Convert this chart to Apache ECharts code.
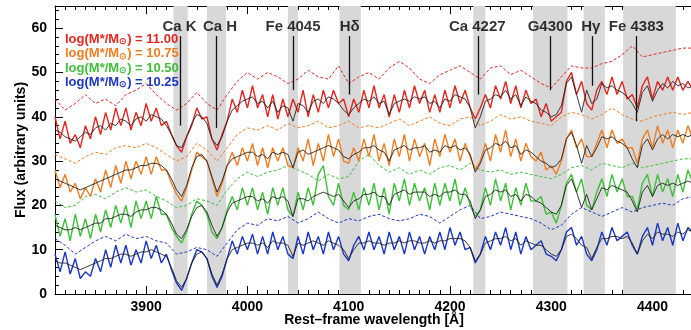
<!DOCTYPE html>
<html>
<head>
<meta charset="utf-8">
<script src="https://cdn.jsdelivr.net/npm/echarts@6/dist/echarts.min.js"></script>
<style>
  html, body { margin: 0; padding: 0; background: #fff; }
  #chart { width: 691px; height: 330px; }
</style>
</head>
<body>
<div id="chart"></div>
<script>
// spectra sampled every 5 A from 3810 A (one row = 50 A), dashed curves every 10 A
const waveStart = 3810
const fineStep = 5
const coarseStep = 10

const red = [
  40, 35, 39, 34, 36, 33, 38, 35, 40, 36,
  41, 37, 42, 38, 42, 37, 41, 38, 43, 39,
  42, 38, 39, 36, 33.5, 32, 35.5, 38, 42, 39.5,
  40, 35, 32.5, 36, 39, 44, 41, 46, 42, 47,
  42, 45, 40, 45, 39.5, 44, 40, 44, 41, 46,
  40, 45, 41, 46, 42, 46, 43, 44, 40, 44,
  41, 46, 42, 47, 42, 45, 40, 45, 41, 46,
  42, 47, 43, 46, 41, 45, 41, 46, 42, 47,
  43, 46, 42, 39.5, 42, 45, 42, 47, 44, 48,
  43, 47, 42, 46, 43, 44, 40, 43, 39, 40,
  41, 48, 50, 45, 48, 43, 41.5, 46, 48, 45,
  49, 45, 48, 44, 45, 42, 47, 49, 44, 48,
  46, 49, 46, 49, 46, 48, 46]
const redModel = [37, 36.5, 35.5, 35, 34.5, 35.5, 36.5, 36, 37.5, 38, 37, 38.5, 38, 39.5, 39, 38, 39.5, 40, 39, 40.5, 40, 39.5, 38, 36, 33.5, 33, 35.5, 38.5, 40.5, 40, 38.5, 35, 33.5, 35.5, 39, 41.5, 42.5, 43.5, 44, 44.5, 43, 43.5, 42, 43.5, 41, 42.5, 42, 39, 43, 42.5, 41, 43.5, 44, 43, 44.5, 44, 43, 41.5, 40.5, 42, 43, 44, 43.5, 44.5, 43, 43.5, 40.5, 43, 43.5, 44, 43.5, 44.5, 44, 44.5, 43, 43.5, 42, 44, 43.5, 45, 44.5, 44, 42, 37.5, 40, 43.5, 44, 45, 44.5, 46, 44, 45, 42.5, 44.5, 43.5, 43, 41.5, 41, 40, 40.5, 42.5, 47.5, 49, 45, 41, 46, 43, 44, 47.5, 46.5, 47, 46, 45.5, 44.5, 43, 41, 45.5, 47, 43.5, 46, 47.5, 46.5, 48, 47, 47.5, 46.5, 47]
const redDash = [44, 41.5, 43, 45, 43, 44, 42.5, 45, 46, 47.5, 45, 43, 41.5, 43, 45.5, 43, 41.5, 45, 48, 50, 48.5, 50, 49, 47.5, 48.5, 50.5, 49, 48.5, 51.5, 47.5, 49, 50, 48.5, 51, 52.5, 51, 48.5, 47.5, 49.5, 50.5, 51.5, 50, 48.5, 51, 51.5, 49.5, 50.5, 49, 47.5, 46.5, 49, 51.5, 51, 51, 52, 52.5, 54, 56, 53.5, 54, 54.5, 55, 55.5, 55.5]

const orange = [
  28, 24, 27, 23, 25, 21.5, 24, 22, 26, 23,
  28, 24, 29, 25, 30, 26, 30, 27, 31, 27,
  31, 28, 28, 25, 22.5, 21, 24, 28, 32, 31,
  30, 26, 22, 25, 29, 32, 29, 33, 30, 34,
  29, 33, 28.5, 33, 30, 33, 29, 28.5, 33, 30,
  35, 29, 34, 30, 36, 31, 35, 30, 29.5, 33,
  30, 35, 31, 36, 30, 34, 29, 35, 31, 36,
  30, 35, 31, 34, 29, 35, 31, 36, 32, 35,
  30, 34, 31, 28, 30, 34, 30, 36, 32, 37,
  31, 35, 30, 34, 31, 30, 32, 28, 29, 27,
  30, 35, 37, 33, 35, 31, 31, 34, 37, 33,
  37, 34, 35, 33, 33, 29.5, 35, 37, 33, 38,
  34, 37, 33, 37, 34, 38, 35]
const orangeModel = [26, 25.5, 25, 24.5, 24, 23.5, 24, 24.5, 25, 25.5, 26, 26.5, 27, 27.5, 28, 28, 28.5, 29, 29, 29.5, 29.5, 29, 28, 26, 23.5, 22, 24.5, 28.5, 31, 31.5, 30, 26.5, 23, 25.5, 29, 30.5, 31, 31.5, 32, 32, 31, 31.5, 30.5, 32, 31.5, 32, 31.5, 28.5, 32, 32.5, 31.5, 32, 32.5, 33, 33.5, 33, 32.5, 31, 30.5, 31.5, 32, 33, 33, 33.5, 32.5, 32, 30, 32.5, 33, 33.5, 32.5, 33, 33, 33.5, 32, 32.5, 32, 33.5, 33, 33.5, 32.5, 33, 31.5, 27.5, 29.5, 32.5, 33, 34, 33.5, 34.5, 33, 33.5, 31.5, 32.5, 32, 31, 30, 29.5, 28.5, 29, 30.5, 35, 36.5, 33.5, 29.5, 33.5, 31, 33, 35.5, 35, 35.5, 34.5, 34, 33, 30.5, 28.5, 33.5, 35, 32.5, 35, 36, 35, 36, 35.5, 36, 35.5, 36]
const orangeDash = [31.5, 30.5, 29.5, 31, 32, 31.5, 33, 33.5, 33, 34, 33, 31.5, 30, 31, 34, 32.5, 30, 33, 36, 37.5, 37, 38, 37, 38.5, 37.5, 38, 39, 37.5, 38, 39, 37.5, 38, 37.5, 38.5, 39.5, 38, 39, 40, 38.5, 38, 39.5, 40, 38, 39, 40.5, 39.5, 40, 39, 38.5, 38, 40, 41, 40.5, 39.5, 40.5, 42, 40.5, 39.5, 39, 40, 40.5, 41, 40.5, 41]

const green = [
  18, 13, 17, 12, 18, 13, 17, 12.5, 18, 14,
  19, 15, 20, 16, 20, 15, 21, 17, 21, 17,
  22, 18, 18, 15, 13, 11.5, 14, 18, 21, 20,
  18, 14, 12.5, 15, 19, 22, 19, 24, 20, 24,
  19, 23, 18, 24, 20, 24, 19, 17.5, 23, 19,
  24, 20, 27, 29, 22, 20, 25, 20, 19, 23,
  19, 24, 20, 25, 19, 24, 18, 25, 21, 26,
  20, 25, 21, 24, 19, 25, 20, 25, 21, 26,
  20, 24, 20, 17.5, 19, 24, 20, 26, 21, 25,
  19, 24, 20, 25, 21, 21, 22, 18, 18.5, 16,
  20, 25, 27, 23, 26, 20, 19, 23, 26, 22,
  27, 23, 26, 22, 22, 19, 25, 27, 22, 27,
  23, 26, 22, 27, 23, 28, 25]
const greenModel = [15.5, 15, 14.5, 14.5, 15, 14.5, 15, 15.5, 16, 16, 17, 17, 17.5, 18, 18, 17.5, 18.5, 19, 19, 19.5, 19.5, 19, 18, 16, 13.5, 12.5, 14.5, 17.5, 19.5, 20, 18.5, 15.5, 13, 15, 18.5, 20.5, 21, 21.5, 22, 22, 21, 21.5, 20.5, 22, 21.5, 22, 21, 17.5, 21.5, 21.5, 21, 22, 22.5, 23, 22.5, 22, 22.5, 21, 19.5, 21, 21.5, 22.5, 22.5, 23, 22, 22, 20, 22.5, 23, 23.5, 22.5, 23, 23, 23, 22, 22.5, 22, 23, 23, 23.5, 22.5, 22.5, 21, 17, 19, 22, 22.5, 23.5, 23, 23.5, 22, 22.5, 21, 22.5, 22, 21, 20.5, 19.5, 18.5, 18, 20, 24.5, 26, 23, 19.5, 22.5, 19, 21.5, 24, 23.5, 24.5, 24, 23.5, 23, 21, 18.5, 23, 24.5, 22, 24.5, 25, 24.5, 25, 24.5, 25, 25.5, 25]
const greenDash = [21, 19.5, 20, 22, 22.5, 21.5, 23, 24, 23, 23.5, 22, 21, 19.5, 20, 21.5, 21, 20, 23.5, 26, 27.5, 26.5, 27.5, 28, 29, 28, 27, 25.5, 27, 26, 26.5, 30, 31.5, 29, 27.5, 28.5, 27, 28, 27, 28.5, 29, 28, 29.5, 28, 27.5, 28, 27, 27.5, 27, 26.5, 26, 27, 28.5, 29, 28, 29.5, 29, 28.5, 29.5, 28.5, 29, 29.5, 30, 30.5, 30.5]

const blue = [
  9, 5, 9.5, 4.5, 8, 3.5, 5, 4, 8, 5,
  10, 6, 11, 7, 11, 6.5, 10, 7, 12, 8,
  11, 7, 9, 5.5, 2.5, 0.8, 3.5, 7, 10, 9.5,
  8, 4, 1.5, 4, 8, 12, 9, 13, 10, 13.5,
  9, 13, 9, 14, 10, 13, 9, 8, 13, 9,
  14, 10, 13, 9, 14, 10, 13, 9, 7.5, 11,
  13, 10, 14, 10, 13, 9, 14, 10, 13, 9,
  14, 10, 13, 9, 13, 10, 14, 10, 15, 11,
  14, 10, 10.5, 7, 9, 13, 10, 14, 11, 15,
  10, 14, 9, 13, 10, 11, 12, 9, 8.5, 7.5,
  10, 14, 15, 11, 13, 9, 7.5, 10, 14, 11,
  15, 12, 13, 14, 11, 9, 13, 15, 11, 16,
  12, 15, 11, 16, 12, 15, 14]
const blueModel = [7.5, 7, 7, 6.5, 6, 5.5, 6, 6.5, 7, 7.5, 8, 8, 8.5, 9, 9, 8.5, 9, 9.5, 9.5, 10, 9.5, 9, 8.5, 6, 3, 1.5, 3.5, 7, 9, 9.5, 8, 4.5, 2, 4.5, 8, 10, 10.5, 11, 11.5, 11.5, 11, 11.5, 10.5, 12, 11.5, 11.5, 11, 8.5, 11.5, 11, 11.5, 12, 11.5, 11, 12, 11.5, 11, 10, 8, 10, 11.5, 11.5, 12, 11.5, 11.5, 11, 11.5, 11.5, 12, 11.5, 12, 12, 11.5, 11.5, 12, 11.5, 12, 12, 12.5, 12.5, 12.5, 12, 10.5, 7.5, 9, 11.5, 12, 12.5, 12.5, 13, 12, 12.5, 11, 12, 11.5, 11, 11, 10, 9, 8.5, 10, 13, 13.5, 12.5, 11, 10.5, 8, 10.5, 12.5, 12.5, 13, 13, 12.5, 13, 11.5, 9, 12, 13.5, 12.5, 14, 13.5, 13.5, 13, 14, 13.5, 14.5, 14]
const blueDash = [12.5, 11, 9, 10.5, 12, 13, 12, 13.5, 12.5, 13, 12, 11.5, 9, 9.5, 10.5, 10, 8.5, 11.5, 14.5, 16, 15.5, 17, 16.5, 17.5, 16, 17, 18.5, 17, 16, 17, 16.5, 17.5, 18, 17, 16.5, 17, 18, 17.5, 16, 17.5, 19, 20, 17, 17.5, 18.5, 18, 17.5, 17, 16, 14.5, 15.5, 18, 19.5, 18.5, 17.5, 18.5, 19.5, 18.5, 19.5, 20, 20.5, 20, 21.5, 22]

const legendLabels = ['11.00', '10.75', '10.50', '10.25']
const colors = ['#e3261f', '#f07d22', '#3fbf3a', '#1c36c4']

// grey index windows [from, to] in A
const bands = [[3927, 3941], [3960, 3979], [4040, 4050], [4091, 4112], [4223, 4235], [4282, 4316], [4332, 4353], [4371, 4423]]
const featureNames = ['Ca K', 'Ca H', 'Fe 4045', 'H\u03b4', 'Ca 4227', 'G4300', 'H\u03b3', 'Fe 4383']
const featureLabelWave = [3933, 3973, 4045, 4101, 4227, 4299, 4339, 4384]
const featureWave = [3934, 3969, 4045, 4101, 4228, 4299, 4341, 4384]
const featureLineBottom = [38, 37.5, 46, 45, 45, 46, 47, 39]

const majorTicks = [3900, 4000, 4100, 4200, 4300, 4400]
const fluxTicks = [0, 10, 20, 30, 40, 50, 60]

function pair (step, values) {
  let out = []
  for (let i = 0; i < values.length; i++) {
    out.push([waveStart + i * step, values[i]])
  }
  return out
}

const chart = echarts.init(document.getElementById('chart'), null, { renderer: 'canvas' })
const font = 'Liberation Sans, Arial, sans-serif'

let series = [{
  type: 'line',
  data: [],
  z: 0,
  silent: true,
  markArea: {
    silent: true,
    itemStyle: { color: '#d8d8d8' },
    data: bands.map(b => [{ xAxis: b[0] }, { xAxis: b[1] }])
  }
}]

const groups = [
  [red, redModel, redDash],
  [orange, orangeModel, orangeDash],
  [green, greenModel, greenDash],
  [blue, blueModel, blueDash]
]
groups.forEach((g, k) => {
  series.push({
    type: 'line', data: pair(coarseStep, g[2]), symbol: 'none', z: 3,
    lineStyle: { color: colors[k], width: 1, type: [3, 2] }
  })
  series.push({
    type: 'line', data: pair(fineStep, g[0]), symbol: 'none', z: 4,
    lineStyle: { color: colors[k], width: 1.4 }
  })
  series.push({
    type: 'line', data: pair(fineStep, g[1]), symbol: 'none', z: 5,
    lineStyle: { color: '#222', width: 0.9 }
  })
})

series.push({
  type: 'scatter',
  z: 6,
  symbolSize: 0,
  silent: true,
  data: featureNames.map((n, i) => ({ name: n, value: [featureLabelWave[i], 60.3] })),
  label: {
    show: true,
    position: 'inside',
    formatter: '{b}',
    color: '#000',
    fontFamily: font,
    fontWeight: 'bold',
    fontSize: 15
  },
  markLine: {
    silent: true,
    symbol: 'none',
    label: { show: false },
    lineStyle: { color: '#111', width: 1.3, type: 'solid' },
    data: featureWave.map((w, i) => [{ coord: [w, 58.2] }, { coord: [w, featureLineBottom[i]] }])
  }
})

const axisText = { color: '#000', fontFamily: font, fontWeight: 'bold', fontSize: 14 }
const tickLine = { color: '#000', width: 1 }

function xAxisOf (position, major, withLabels) {
  let ax = {
    type: 'value', min: 3810, max: 4440, position: position, interval: 10,
    axisLine: { show: major, onZero: false, lineStyle: tickLine },
    splitLine: { show: false },
    axisLabel: { show: false }
  }
  if (major) {
    ax.axisTick = { inside: true, length: 8, lineStyle: tickLine, customValues: majorTicks }
    if (withLabels) {
      ax.axisLabel = Object.assign({ show: true, margin: 6, customValues: majorTicks, formatter: v => String(v) }, axisText)
      ax.name = 'Rest\u2013frame wavelength [\u00c5]'
      ax.nameLocation = 'middle'
      ax.nameGap = 19
      ax.nameMoveOverlap = false
      ax.nameTextStyle = axisText
    }
  } else {
    ax.axisTick = { inside: true, length: 4, lineStyle: tickLine }
  }
  return ax
}

chart.setOption({
  animation: false,
  grid: { left: 55, top: 6, width: 638, height: 288, outerBoundsMode: 'none', containLabel: false },
  xAxis: [
    xAxisOf('bottom', true, true),
    xAxisOf('bottom', false, false),
    xAxisOf('top', true, false),
    xAxisOf('top', false, false)
  ],
  yAxis: {
    type: 'value', min: 0, max: 65, interval: 10,
    name: 'Flux (arbitrary units)', nameLocation: 'middle', nameGap: 27, nameMoveOverlap: false,
    nameTextStyle: axisText,
    axisLine: { show: true, onZero: false, lineStyle: tickLine },
    axisTick: { inside: true, length: 8, lineStyle: tickLine },
    minorTick: { show: true, splitNumber: 5, length: 4, lineStyle: tickLine },
    axisLabel: Object.assign({ margin: 8, customValues: fluxTicks, showMinLabel: true, hideOverlap: false }, axisText),
    splitLine: { show: false }
  },
  graphic: legendLabels.map((t, k) => ({
    type: 'text',
    left: 65,
    top: 33 + k * 14.3,
    z: 10,
    style: {
      text: '{a|log(M*/M}{s|\u2299}{a|) = ' + t + '}',
      rich: {
        a: { fill: colors[k], fontFamily: font, fontWeight: 'bold', fontSize: 13 },
        s: { fill: colors[k], fontFamily: font, fontWeight: 'bold', fontSize: 9, verticalAlign: 'bottom', padding: [5, 0, 0, 0] }
      }
    }
  })),
  series: series
})
</script>
</body>
</html>
